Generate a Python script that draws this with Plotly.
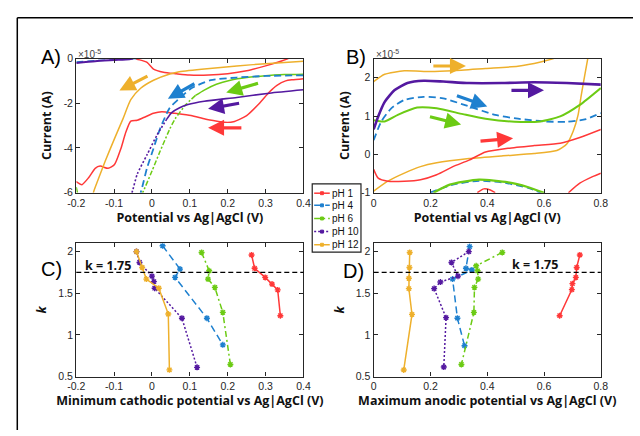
import plotly.graph_objects as go

# ---------------- colours ----------------
RED = "#FF3838"
BLUE = "#1E80CF"
GREEN = "#6CCB14"
PURPLE = "#5419A0"
YELLOW = "#EEB02C"

# ---------------- Panel A data (current in units of 1e-5 A) ----------------
A_PH1_UP_V = [-0.043, -0.039, -0.013, 0.004, 0.03, 0.064, 0.099, 0.15, 0.2, 0.25, 0.3, 0.33, 0.36]
A_PH1_UP_I = [0.0, -0.03, -0.17, -0.47, -0.61, -0.68, -0.74, -0.74, -0.68, -0.55, -0.33, -0.18, 0.0]
A_PH1_V = [0.4, 0.37, 0.353, 0.33, 0.31, 0.284, 0.25, 0.215, 0.19, 0.172, 0.14, 0.103, 0.06, 0.026,
           0.004, -0.022, -0.039, -0.056, -0.069, -0.082, -0.099, -0.116, -0.137, -0.15, -0.167,
           -0.185, -0.197, -0.2]
A_PH1_I = [-0.9, -0.95, -1.0, -1.2, -1.5, -2.0, -2.55, -2.83, -2.85, -2.8, -2.7, -2.55, -2.45, -2.38,
           -2.45, -2.64, -2.76, -2.8, -3.29, -4.02, -4.74, -4.91, -4.81, -4.91, -5.32, -5.64, -5.54, -5.5]
A_PH4_TOP_V = [-0.2, -0.15, -0.1, -0.06, -0.04]
A_PH4_TOP_I = [-0.15, -0.1, -0.05, -0.02, 0.0]
A_PH4_V = [0.4, 0.3, 0.224, 0.155, 0.104, 0.069, 0.047, 0.021, 0.004, -0.013, -0.026, -0.03]
A_PH4_I = [-0.75, -0.78, -0.85, -0.97, -1.33, -1.84, -2.2, -3.15, -4.02, -4.89, -5.76, -6.0]
A_PH6_UP_V = [0.4, 0.35, 0.293, 0.25, 0.207, 0.17, 0.138, 0.115]
A_PH6_UP_I = [-0.7, -0.72, -0.78, -0.85, -0.97, -1.15, -1.41, -1.65]
A_PH6_LO_V = [0.115, 0.09, 0.061, 0.047, 0.021, 0.0, -0.022, -0.025]
A_PH6_LO_I = [-1.65, -2.05, -2.7, -3.15, -4.16, -5.03, -5.9, -6.0]
A_PH6_CORNER_V = [-0.2, -0.197]
A_PH6_CORNER_I = [-5.75, -6.0]
A_PH10_TOP_V = [-0.2, -0.15, -0.1, -0.06, -0.05]
A_PH10_TOP_I = [-0.2, -0.12, -0.07, -0.03, 0.0]
A_PH10_UP_V = [0.4, 0.31, 0.224, 0.138, 0.095, 0.073, 0.052, 0.039]
A_PH10_UP_I = [-1.4, -1.55, -1.74, -1.91, -2.06, -2.2, -2.42, -2.71]
A_PH10_LO_V = [0.039, 0.013, -0.013, -0.039, -0.051, -0.053]
A_PH10_LO_I = [-2.71, -3.43, -4.3, -5.17, -5.9, -6.0]
A_PH12_V = [0.4, 0.31, 0.224, 0.138, 0.069, 0.047, 0.004, -0.03, -0.056, -0.077, -0.099, -0.124, -0.15, -0.155]
A_PH12_I = [-0.12, -0.22, -0.33, -0.47, -0.6, -0.69, -0.97, -1.33, -1.84, -2.71, -3.58, -4.6, -5.76, -6.0]

# ---------------- Panel B data (current in units of 1e-5 A) ----------------
B_PH12_UP_V = [0, 0.039, 0.108, 0.199, 0.279, 0.394, 0.508, 0.588, 0.634]
B_PH12_UP_I = [1.9, 2.09, 2.18, 2.16, 2.18, 2.24, 2.30, 2.41, 2.5]
B_PH12_LO_V = [0, 0.05, 0.108, 0.165, 0.222, 0.336, 0.451, 0.565, 0.645, 0.68, 0.703, 0.72, 0.731, 0.743, 0.754]
B_PH12_LO_I = [-0.96, -0.7, -0.49, -0.32, -0.22, -0.11, -0.04, 0.02, 0.10, 0.27, 0.61, 1.03, 1.54, 2.05, 2.5]
B_PH10_V = [0, 0.016, 0.039, 0.073, 0.119, 0.176, 0.245, 0.336, 0.451, 0.565, 0.68, 0.8]
B_PH10_I = [0.65, 0.99, 1.37, 1.67, 1.86, 1.92, 1.9, 1.86, 1.86, 1.88, 1.86, 1.82]
B_PH4_UP_V = [0, 0.027, 0.062, 0.108, 0.176, 0.245, 0.336, 0.428, 0.508, 0.6, 0.68, 0.748, 0.8]
B_PH4_UP_I = [0.37, 0.86, 1.2, 1.42, 1.5, 1.46, 1.25, 1.03, 0.93, 0.86, 0.85, 0.92, 1.08]
B_PH4_LO_V = [0.199, 0.279, 0.371, 0.451, 0.542, 0.588]
B_PH4_LO_I = [-1.0, -0.79, -0.69, -0.73, -0.87, -1.0]
B_PH6_UP_V = [0, 0.039, 0.085, 0.153, 0.222, 0.314, 0.394, 0.497, 0.588, 0.657, 0.726, 0.8]
B_PH6_UP_I = [0.89, 0.86, 1.03, 1.22, 1.2, 1.05, 0.93, 0.85, 0.86, 0.99, 1.29, 1.73]
B_PH6_LO_V = [0.211, 0.268, 0.371, 0.474, 0.542, 0.6]
B_PH6_LO_I = [-1.0, -0.79, -0.66, -0.73, -0.85, -1.0]
B_PH1_UP_V = [0, 0.016, 0.05, 0.108, 0.165, 0.222, 0.279, 0.336, 0.394, 0.474, 0.565, 0.657, 0.726, 0.8]
B_PH1_UP_I = [-0.39, -0.62, -0.70, -0.70, -0.66, -0.53, -0.32, -0.15, 0.06, 0.16, 0.23, 0.29, 0.44, 0.65]
B_PH1_BUMP_V = [0.365, 0.388, 0.411, 0.428]
B_PH1_BUMP_I = [-1.0, -0.9, -0.93, -1.0]
B_PH1_RIGHT_V = [0.686, 0.726, 0.771, 0.8]
B_PH1_RIGHT_I = [-1.0, -0.75, -0.58, -0.49]

# ---------------- Panel C / D data ----------------
PH_LABELS = ["pH 1", "pH 4", "pH 6", "pH 10", "pH 12"]
C_V = {
    "pH 1": [0.263, 0.271, 0.299, 0.317, 0.332, 0.339],
    "pH 4": [0.028, 0.074, 0.061, 0.145, 0.187],
    "pH 6": [0.131, 0.151, 0.148, 0.166, 0.187, 0.207],
    "pH 10": [-0.041, -0.033, 0.0, 0.005, 0.007, 0.079, 0.119],
    "pH 12": [-0.041, -0.026, -0.015, 0.018, 0.043, 0.046],
}
C_K = {
    "pH 1": [1.96, 1.80, 1.69, 1.61, 1.54, 1.23],
    "pH 4": [2.07, 1.79, 1.69, 1.20, 0.88],
    "pH 6": [1.99, 1.77, 1.67, 1.57, 1.27, 0.645],
    "pH 10": [2.0, 1.87, 1.705, 1.64, 1.56, 1.20, 0.61],
    "pH 12": [2.0, 1.81, 1.67, 1.56, 1.25, 0.58],
}
D_V = {
    "pH 1": [0.726, 0.715, 0.712, 0.70, 0.698, 0.655],
    "pH 4": [0.338, 0.325, 0.346, 0.278, 0.295, 0.32],
    "pH 6": [0.453, 0.361, 0.366, 0.368, 0.355, 0.353, 0.309],
    "pH 10": [0.335, 0.274, 0.297, 0.235, 0.213, 0.255, 0.247],
    "pH 12": [0.127, 0.126, 0.124, 0.124, 0.135, 0.106],
}
D_K = {
    "pH 1": [1.96, 1.81, 1.69, 1.615, 1.544, 1.23],
    "pH 4": [2.06, 1.80, 1.78, 1.67, 1.20, 0.87],
    "pH 6": [1.99, 1.83, 1.77, 1.67, 1.57, 1.27, 0.645],
    "pH 10": [2.0, 1.87, 1.705, 1.635, 1.556, 1.207, 0.614],
    "pH 12": [1.99, 1.81, 1.68, 1.556, 1.246, 0.579],
}
K_THRESHOLD = 1.75

STYLE = {
    "pH 1": (RED, "solid"),
    "pH 4": (BLUE, "7px,4px"),
    "pH 6": (GREEN, "6px,3px,2px,3px"),
    "pH 10": (PURPLE, "2px,2px"),
    "pH 12": (YELLOW, "solid"),
}

fig = go.Figure()


def line(x, y, color, dash="solid", width=1.5, xa="x", ya="y"):
    fig.add_trace(go.Scatter(x=x, y=y, mode="lines", xaxis=xa, yaxis=ya, showlegend=False,
                             line=dict(color=color, dash=dash, width=width, shape="spline", smoothing=0.6),
                             hoverinfo="skip"))


# Panel A
line(A_PH1_UP_V, A_PH1_UP_I, RED)
line(A_PH1_V, A_PH1_I, RED)
line(A_PH4_TOP_V, A_PH4_TOP_I, BLUE, "7px,4px")
line(A_PH10_TOP_V, A_PH10_TOP_I, PURPLE, "solid", 2)
line(A_PH12_V, A_PH12_I, YELLOW)
line(A_PH6_UP_V, A_PH6_UP_I, GREEN)
line(A_PH6_LO_V, A_PH6_LO_I, GREEN, "5px,2px,2px,2px")
line(A_PH6_CORNER_V, A_PH6_CORNER_I, GREEN)
line(A_PH4_V, A_PH4_I, BLUE, "7px,4px", 1.8)
line(A_PH10_UP_V, A_PH10_UP_I, PURPLE, "solid", 1.6)
line(A_PH10_LO_V, A_PH10_LO_I, PURPLE, "2px,2px", 1.6)

# Panel B
xb, yb = "x2", "y2"
line(B_PH12_UP_V, B_PH12_UP_I, YELLOW, xa=xb, ya=yb)
line(B_PH12_LO_V, B_PH12_LO_I, YELLOW, xa=xb, ya=yb)
line(B_PH1_UP_V, B_PH1_UP_I, RED, xa=xb, ya=yb)
line(B_PH1_BUMP_V, B_PH1_BUMP_I, RED, xa=xb, ya=yb)
line(B_PH1_RIGHT_V, B_PH1_RIGHT_I, RED, xa=xb, ya=yb)
line(B_PH4_UP_V, B_PH4_UP_I, BLUE, "7px,4px", 1.8, xa=xb, ya=yb)
line(B_PH4_LO_V, B_PH4_LO_I, BLUE, "7px,4px", 1.8, xa=xb, ya=yb)
line(B_PH6_UP_V, B_PH6_UP_I, GREEN, "solid", 2, xa=xb, ya=yb)
line(B_PH6_LO_V, B_PH6_LO_I, GREEN, "solid", 2.2, xa=xb, ya=yb)
line(B_PH10_V, B_PH10_I, PURPLE, "solid", 2.6, xa=xb, ya=yb)

# Panels C and D
for ph in PH_LABELS:
    color, dash = STYLE[ph]
    common = dict(mode="lines+markers", line=dict(color=color, dash=dash, width=1.5),
                  marker=dict(symbol="asterisk-open", size=5, color=color, line=dict(color=color, width=1.4)))
    fig.add_trace(go.Scatter(x=C_V[ph], y=C_K[ph], name=ph, xaxis="x3", yaxis="y3",
                             showlegend=False, **common))
    fig.add_trace(go.Scatter(x=D_V[ph], y=D_K[ph], name=ph, xaxis="x4", yaxis="y4",
                             showlegend=False, **common))

# ---------------- layout ----------------
W, H = 640, 436
AX_COLOR = "#262626"
TICK_FONT = dict(family="Liberation Sans, Arial, sans-serif", size=10.5, color=AX_COLOR)
TITLE_FONT = dict(family="Open Sans, sans-serif", size=12.5, color="#111111")


def px_x(v):
    return v / W


def px_y(v):
    return 1 - v / H


def axis(domain, rng, tickvals, ticktext=None, title=None, anchor=None, standoff=4):
    d = dict(domain=domain, range=rng, tickvals=tickvals, showline=True, linecolor=AX_COLOR,
             linewidth=1.4, mirror="ticks", ticks="inside", ticklen=4, tickwidth=1, tickcolor=AX_COLOR,
             showgrid=False, zeroline=False, tickfont=TICK_FONT, anchor=anchor)
    if ticktext is not None:
        d["ticktext"] = ticktext
    if title is not None:
        d["title"] = dict(text=title, font=TITLE_FONT, standoff=standoff)
    return d


XA = [px_x(69), px_x(302)]
XB = [px_x(374), px_x(607)]
YTOP = [px_y(192), px_y(54)]
YBOT = [px_y(381), px_y(244)]

fig.update_layout(
    width=W, height=H, margin=dict(l=0, r=0, t=0, b=0), showlegend=False,
    paper_bgcolor="white", plot_bgcolor="white",
    xaxis=axis(XA, [-0.2, 0.4], [-0.2, -0.1, 0, 0.1, 0.2, 0.3, 0.4],
               ["-0.2", "-0.1", "0", "0.1", "0.2", "0.3", "0.4"],
               "<b>Potential vs Ag|AgCl (V)</b>", "y", 4),
    yaxis=axis(YTOP, [-6, 0], [-6, -4, -2, 0], ["-6", "-4", "-2", "0"], "<b>Current (A)</b>", "x", 9),
    xaxis2=axis(XB, [0, 0.8], [0, 0.2, 0.4, 0.6, 0.8], ["0", "0.2", "0.4", "0.6", "0.8"],
                "<b>Potential vs Ag|AgCl (V)</b>", "y2", 4),
    yaxis2=axis(YTOP, [-1, 2.5], [-1, 0, 1, 2], ["-1", "0", "1", "2"], "<b>Current (A)</b>", "x2", 8),
    xaxis3=axis(XA, [-0.2, 0.4], [-0.2, -0.1, 0, 0.1, 0.2, 0.3, 0.4],
                ["-0.2", "-0.1", "0", "0.1", "0.2", "0.3", "0.4"],
                "<b>Minimum cathodic potential vs Ag|AgCl (V)</b>", "y3", 2),
    yaxis3=axis(YBOT, [0.5, 2.1], [0.5, 1, 1.5, 2], ["0.5", "1", "1.5", "2"], "<b><i>k</i></b>", "x3", 8),
    xaxis4=axis(XB, [0, 0.8], [0, 0.2, 0.4, 0.6, 0.8], ["0", "0.2", "0.4", "0.6", "0.8"],
                "<b>Maximum anodic potential vs Ag|AgCl (V)</b>", "y4", 2),
    yaxis4=axis(YBOT, [0.5, 2.1], [0.5, 1, 1.5, 2], ["0.5", "1", "1.5", "2"], "<b><i>k</i></b>", "x4", 8),
)

shapes = []
# k = 1.75 reference lines
for xr, yr in (("x3", "y3"), ("x4", "y4")):
    shapes.append(dict(type="line", xref=f"{xr} domain", yref=yr, x0=0, x1=1, y0=K_THRESHOLD, y1=K_THRESHOLD,
                       line=dict(color="black", dash="5px,3px", width=1.2)))

ann = []
# panel letters
for txt, px, py in (("A)", 31, 52), ("B)", 344, 52), ("C)", 31, 270), ("D)", 341, 273)):
    ann.append(dict(text=txt, x=px_x(px), y=px_y(py), xref="paper", yref="paper", xanchor="left",
                    yanchor="middle", showarrow=False,
                    font=dict(family="Liberation Sans, Arial, sans-serif", size=20, color="black")))
# exponent labels
for px in (69, 374):
    ann.append(dict(text="×10<sup>-5</sup>", x=px_x(px), y=px_y(49), xref="paper", yref="paper",
                    xanchor="left", yanchor="middle", showarrow=False,
                    font=dict(family="Liberation Sans, Arial, sans-serif", size=10, color="#444444")))
# k = 1.75 labels
for px, py in ((76, 267), (514, 266)):
    ann.append(dict(text="<b>k = 1.75</b>", x=px_x(px), y=px_y(py), xref="paper", yref="paper",
                    xanchor="left", yanchor="middle", showarrow=False,
                    font=dict(family="Open Sans, sans-serif", size=12.5, color="#111111")))

# direction arrows (tail -> head) in data coordinates
ARROWS = [
    ("x", "y", YELLOW, (-0.008, -0.75), (-0.086, -1.43)),
    ("x", "y", BLUE, (0.116, -1.09), (0.042, -1.80)),
    ("x", "y", GREEN, (0.284, -1.09), (0.196, -1.52)),
    ("x", "y", PURPLE, (0.234, -1.99), (0.148, -2.25)),
    ("x", "y", RED, (0.24, -3.1), (0.148, -3.1)),
    ("x2", "y2", YELLOW, (0.205, 2.305), (0.325, 2.305)),
    ("x2", "y2", PURPLE, (0.48, 1.67), (0.60, 1.67)),
    ("x2", "y2", BLUE, (0.288, 1.54), (0.40, 1.25)),
    ("x2", "y2", GREEN, (0.193, 0.99), (0.308, 0.78)),
    ("x2", "y2", RED, (0.371, 0.34), (0.491, 0.42)),
]
for xr, yr, col, tail, head in ARROWS:
    ann.append(dict(x=head[0], y=head[1], ax=tail[0], ay=tail[1], xref=xr, yref=yr, axref=xr, ayref=yr,
                    showarrow=True, arrowhead=2, arrowsize=1.0, arrowwidth=3.2, arrowcolor=col, text=""))

# ---- manual compact legend box (between panels C and D) ----
LEG_LEFT, LEG_TOP, LEG_RIGHT, LEG_BOTTOM = 311, 183, 361, 253
LEG_ROWS = [192.5, 205, 218.5, 232, 245.5]
shapes.append(dict(type="rect", xref="paper", yref="paper", x0=px_x(LEG_LEFT), x1=px_x(LEG_RIGHT),
                   y0=px_y(LEG_BOTTOM), y1=px_y(LEG_TOP), line=dict(color="#222222", width=1.2),
                   fillcolor="white", layer="above"))
for ph, ry in zip(PH_LABELS, LEG_ROWS):
    color, dash = STYLE[ph]
    shapes.append(dict(type="line", xref="paper", yref="paper", x0=px_x(313), x1=px_x(329),
                       y0=px_y(ry), y1=px_y(ry), line=dict(color=color, dash=dash, width=1.5), layer="above"))
    shapes.append(dict(type="rect", xref="paper", yref="paper", x0=px_x(319.5), x1=px_x(322.5),
                       y0=px_y(ry + 1.5), y1=px_y(ry - 1.5), line=dict(color=color, width=1),
                       fillcolor=color, layer="above"))
    ann.append(dict(text=ph, x=px_x(329.5), y=px_y(ry), xref="paper", yref="paper", xanchor="left",
                    yanchor="middle", showarrow=False,
                    font=dict(family="Liberation Sans, Arial, sans-serif", size=10, color="#111111")))

# outer frame (extends beyond the visible area on right and bottom)
shapes.append(dict(type="line", xref="paper", yref="paper", x0=px_x(8.5), x1=px_x(8.5), y0=0, y1=px_y(12),
                   line=dict(color="black", width=1.5)))
shapes.append(dict(type="line", xref="paper", yref="paper", x0=px_x(8.5), x1=1, y0=px_y(12), y1=px_y(12),
                   line=dict(color="black", width=1.5)))

fig.update_layout(annotations=ann, shapes=shapes)

fig.write_html("out.html", config={"displayModeBar": False},
               post_script="document.body.style.margin='0px';document.body.style.overflow='hidden';")
